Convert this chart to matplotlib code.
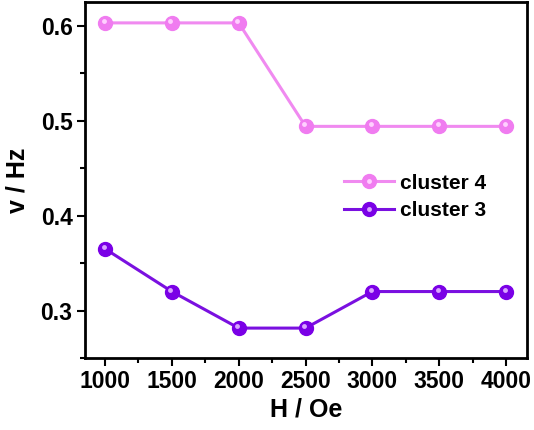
import matplotlib
matplotlib.use("Agg")
import matplotlib.pyplot as plt
import matplotlib.transforms as mtransforms
from matplotlib.lines import Line2D
from matplotlib.legend_handler import HandlerTuple
from matplotlib.ticker import MultipleLocator

field = [1000, 1500, 2000, 2500, 3000, 3500, 4000]
cluster4 = [0.603, 0.603, 0.603, 0.494, 0.494, 0.494, 0.494]
cluster3 = [0.365, 0.320, 0.2815, 0.2815, 0.320, 0.320, 0.320]

plt.rcParams["font.family"] = ["Liberation Sans", "DejaVu Sans"]
plt.rcParams["font.weight"] = "bold"

fig = plt.figure(figsize=(5.34, 4.30), dpi=100)
ax = fig.add_axes([85 / 534, 1 - 358 / 430, (527 - 85) / 534, (358 - 2) / 430])

series = [
    ("cluster 4", cluster4, "#f07cf0", "#ffd0ff", "#f08af0"),
    ("cluster 3", cluster3, "#7a00e6", "#d9a6ff", "#7a10e0"),
]

handles = []
hl_trans = mtransforms.offset_copy(ax.transData, fig=fig, x=-1.5, y=2.0, units="dots")
for name, vals, mcol, hcol, lcol in series:
    ln, = ax.plot(field, vals, color=lcol, lw=2.2, marker="o", ms=10,
                  mfc=mcol, mec=mcol, zorder=3)
    ax.plot(field, vals, ls="none", marker="o", ms=3.5, mfc=hcol, mec="none",
            transform=hl_trans, zorder=4)
    hl = Line2D([], [], ls="none", marker="o", ms=3.5, mfc=hcol, mec="none")
    handles.append((ln, hl))

ax.legend(handles, [s[0] for s in series], handler_map={tuple: HandlerTuple(ndivide=1)},
          loc="center left", bbox_to_anchor=(0.585, 0.452), frameon=False,
          prop={"size": 15, "weight": "bold"}, handlelength=2.4, handletextpad=0.3,
          labelspacing=0.42, borderaxespad=0, borderpad=0)

ax.set_xlim(850, 4157)
ax.set_ylim(0.25, 0.625)
ax.xaxis.set_major_locator(MultipleLocator(500))
ax.xaxis.set_minor_locator(MultipleLocator(250))
ax.yaxis.set_major_locator(MultipleLocator(0.1))
ax.yaxis.set_minor_locator(MultipleLocator(0.05))
ax.tick_params(which="both", direction="out", width=1.5, labelsize=16.5, pad=3)
ax.tick_params(which="major", length=6)
ax.tick_params(which="minor", length=3.5)
for lab in ax.get_xticklabels() + ax.get_yticklabels():
    lab.set_fontweight("bold")
for sp in ax.spines.values():
    sp.set_linewidth(2.0)

ax.set_xlabel("H / Oe", fontsize=18, fontweight="bold", labelpad=3)
ax.set_ylabel("v / Hz", fontsize=18, fontweight="bold", labelpad=8)

fig.savefig("out.png", dpi=100)
